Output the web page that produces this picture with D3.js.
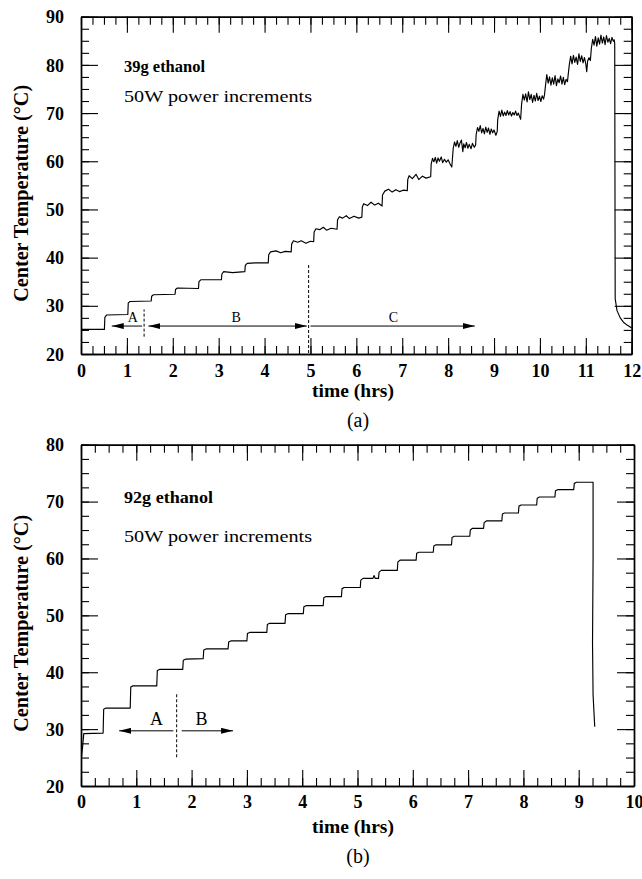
<!DOCTYPE html>
<html><head><meta charset="utf-8">
<script src="https://cdn.jsdelivr.net/npm/d3@7"></script>
<style>
body{margin:0;background:#fff;}
svg{display:block;}
text{font-family:"Liberation Serif","Times New Roman",serif;fill:#000;}
</style></head><body>
<svg id="chart" width="642" height="879"></svg>
<script>
// ---------- DATA ----------
// (a) 39 g ethanol : [time (hrs), centre temperature (°C)]
const seriesA = [
 [0,25.1],[0.51,25.1],
 [0.52,27.6],[0.56,28.1],[1.02,28.2],
 [1.03,30.6],[1.07,30.9],[1.53,31.0],
 [1.54,32.0],[1.58,32.3],[2.05,32.4],
 [2.06,33.4],[2.10,33.7],[2.56,33.6],
 [2.57,35.0],[2.61,35.4],[3.06,35.4],
 [3.07,36.6],[3.11,37.1],[3.30,36.9],[3.57,37.1],
 [3.58,38.4],[3.62,38.8],[3.80,38.9],[4.08,38.9],
 [4.09,40.6],[4.13,41.2],[4.25,41.4],[4.35,41.0],[4.45,41.3],[4.58,41.2],
 [4.59,42.8],[4.63,43.5],[4.72,43.2],[4.80,43.5],[4.90,43.0],[5.00,43.4],[5.07,43.3],
 [5.08,45.3],[5.12,46.0],[5.20,45.8],[5.28,46.3],[5.35,45.7],[5.45,46.1],[5.58,45.9],
 [5.59,47.8],[5.63,48.5],[5.70,48.2],[5.78,48.7],[5.85,48.1],[5.95,48.6],[6.05,48.2],[6.12,48.4],
 [6.13,50.5],[6.16,51.2],[6.24,50.8],[6.32,51.5],[6.40,50.9],[6.48,51.3],[6.56,50.7],
 [6.57,53.0],[6.62,53.8],[6.70,54.2],[6.78,53.6],[6.86,54.1],[6.94,53.7],[7.02,54.0],[7.11,53.9],
 [7.12,56.2],[7.15,57.0],[7.22,56.4],[7.30,57.3],[7.36,56.2],[7.44,56.9],[7.52,56.5],[7.62,56.8],
 [7.63,59.4],[7.66,60.6],[7.69,59.9],[7.72,60.8],[7.75,59.6],[7.78,60.7],[7.81,60.0],[7.85,60.9],[7.88,59.7],[7.92,60.4],[7.96,59.8],[8.00,60.3],[8.04,59.5],[8.08,58.8],
 [8.11,62.6],[8.14,64.0],[8.17,63.1],[8.20,64.3],[8.23,62.9],[8.26,63.8],[8.29,64.4],[8.32,62.0],[8.34,63.6],[8.37,62.8],[8.40,63.9],[8.43,62.7],[8.46,63.5],[8.50,62.6],[8.53,63.7],[8.57,62.9],[8.60,63.4],
 [8.61,65.5],[8.64,67.0],[8.67,66.2],[8.70,67.4],[8.73,65.9],[8.76,66.8],[8.79,65.7],[8.82,67.1],[8.85,66.0],[8.88,66.9],[8.91,65.6],[8.94,66.7],[8.97,65.9],[9.00,66.5],[9.04,65.4],[9.07,66.2],
 [9.08,68.6],[9.11,70.4],[9.14,69.3],[9.17,70.6],[9.20,69.4],[9.23,70.2],[9.26,69.5],[9.29,70.5],[9.32,69.6],[9.35,70.3],[9.38,69.4],[9.41,70.1],[9.44,69.6],[9.47,70.4],[9.50,69.5],[9.53,70.0],[9.56,69.2],[9.58,68.7],
 [9.60,71.8],[9.63,73.9],[9.66,72.7],[9.69,74.0],[9.72,72.3],[9.75,74.4],[9.78,72.8],[9.81,73.9],[9.84,72.2],[9.87,73.7],[9.90,72.5],[9.93,74.1],[9.96,72.6],[9.99,73.5],[10.02,72.4],[10.05,73.6],[10.08,72.9],[10.10,73.8],
 [10.12,75.6],[10.15,78.0],[10.18,76.2],[10.21,77.5],[10.24,75.8],[10.27,77.3],[10.30,76.0],[10.33,77.8],[10.36,75.7],[10.39,77.1],[10.42,76.3],[10.45,77.7],[10.48,76.0],[10.51,77.4],[10.54,75.9],[10.57,77.0],[10.60,76.5],[10.62,78.3],
 [10.64,80.0],[10.67,81.8],[10.70,80.2],[10.73,82.0],[10.76,80.5],[10.79,81.6],[10.82,80.1],[10.85,82.3],[10.88,80.7],[10.91,81.9],[10.94,80.4],[10.97,81.5],[11.00,80.2],[11.02,78.6],[11.04,80.8],[11.07,81.5],[11.10,80.9],
 [11.12,83.4],[11.15,85.3],[11.18,84.1],[11.21,85.9],[11.24,83.9],[11.27,85.6],[11.30,84.3],[11.33,86.2],[11.36,84.5],[11.39,85.8],[11.42,84.2],[11.45,86.1],[11.48,84.7],[11.51,85.5],[11.54,84.4],[11.57,85.7],[11.60,84.9],[11.62,85.2],
 [11.63,84.4],[11.64,31.5],[11.68,29.0],[11.75,27.5],[11.82,26.6],[11.90,26.0],[12.0,25.4]
];
// (b) 92 g ethanol
const seriesB = [
 [0.01,25.2],[0.03,27.0],[0.05,29.2],[0.40,29.3],
 [0.41,33.5],[0.45,33.7],[0.89,33.7],
 [0.90,37.4],[0.94,37.6],[1.37,37.6],
 [1.38,40.3],[1.42,40.5],[1.84,40.5],
 [1.85,42.1],[1.89,42.3],[2.21,42.4],
 [2.22,43.9],[2.26,44.1],[2.66,44.1],
 [2.67,45.3],[2.71,45.5],[3.00,45.5],
 [3.01,46.8],[3.05,47.0],[3.36,47.0],
 [3.37,48.4],[3.41,48.6],[3.69,48.6],
 [3.70,50.1],[3.74,50.3],[4.02,50.3],
 [4.03,51.5],[4.07,51.7],[4.38,51.7],
 [4.39,53.1],[4.43,53.3],[4.71,53.3],
 [4.72,54.7],[4.76,54.9],[5.05,54.9],
 [5.06,56.2],[5.10,56.5],[5.28,56.5],[5.30,57.0],[5.32,56.5],[5.38,56.5],
 [5.39,57.6],[5.43,57.9],[5.72,57.9],
 [5.73,59.4],[5.77,59.7],[6.06,59.7],
 [6.07,60.9],[6.11,61.1],[6.37,61.1],
 [6.38,62.2],[6.42,62.4],[6.70,62.4],
 [6.71,63.7],[6.75,63.9],[7.03,63.9],
 [7.04,65.0],[7.08,65.3],[7.28,65.3],
 [7.29,66.3],[7.33,66.6],[7.61,66.6],
 [7.62,67.8],[7.66,68.0],[7.91,68.0],
 [7.92,69.2],[7.96,69.4],[8.24,69.4],
 [8.25,70.6],[8.29,70.8],[8.57,70.8],
 [8.58,71.9],[8.62,72.1],[8.91,72.1],
 [8.92,73.2],[8.96,73.4],[9.26,73.4],
 [9.26,60.0],[9.25,45.0],[9.26,36.0],[9.29,30.4]
];
const xTicksA = [0,1,2,3,4,5,6,7,8,9,10,11,12];
const yTicksA = [20,30,40,50,60,70,80,90];
const xTicksB = [0,1,2,3,4,5,6,7,8,9,10];
const yTicksB = [20,30,40,50,60,70,80];
// region markers: [label, labelTime, fromTime, toTime, arrowTemp, headStart, headEnd]
const regionsA = [["A",1.13,0.67,1.33,25.8,true,false],["B",3.38,1.47,4.92,25.8,true,true],["C",6.81,5.00,8.58,25.8,false,true]];
const dividersA = [[1.375,23.6,29.25],[4.96,20.2,38.8]];
const regionsB = [["A",1.365,0.69,1.67,29.7,true,false],["B",2.18,1.82,2.75,29.7,false,true]];
const dividersB = [[1.73,25.05,36.2]];

// ---------- DRAW ----------
const svg = d3.select("#chart");
const defs = svg.append("defs");
defs.append("marker").attr("id","ah").attr("viewBox","0 0 12 6")
  .attr("refX",12).attr("refY",3).attr("markerWidth",12).attr("markerHeight",6)
  .attr("markerUnits","userSpaceOnUse").attr("orient","auto-start-reverse")
  .append("path").attr("d","M0,0L12,3L0,6Z").attr("fill","#000");

function panel(cfg){
  const x = d3.scaleLinear().domain(cfg.xDomain).range([cfg.left,cfg.right]);
  const y = d3.scaleLinear().domain(cfg.yDomain).range([cfg.bottom,cfg.top]);
  const g = svg.append("g");
  const minorX = d3.range(cfg.xDomain[0],cfg.xDomain[1]+0.001,0.25);
  const minorY = d3.range(cfg.yDomain[0],cfg.yDomain[1]+0.001,2.5);
  const mk = (axis, tr) => g.append("g").attr("transform",tr).call(axis);
  mk(d3.axisBottom(x).tickValues(minorX).tickSize(-8).tickSizeOuter(0).tickFormat(""),`translate(0,${cfg.bottom})`);
  mk(d3.axisTop(x).tickValues(minorX).tickSize(-8).tickSizeOuter(0).tickFormat(""),`translate(0,${cfg.top})`);
  mk(d3.axisLeft(y).tickValues(minorY).tickSize(-8).tickSizeOuter(0).tickFormat(""),`translate(${cfg.left},0)`);
  mk(d3.axisRight(y).tickValues(minorY).tickSize(-8).tickSizeOuter(0).tickFormat(""),`translate(${cfg.right},0)`);
  mk(d3.axisBottom(x).tickValues(cfg.xTicks).tickSize(-16).tickSizeOuter(0).tickPadding(cfg.xPad),`translate(0,${cfg.bottom})`);
  mk(d3.axisTop(x).tickValues(cfg.xTicks).tickSize(-16).tickSizeOuter(0).tickFormat(""),`translate(0,${cfg.top})`);
  const yl = mk(d3.axisLeft(y).tickValues(cfg.yTicks).tickSize(-17).tickSizeOuter(0).tickPadding(17),`translate(${cfg.left},0)`);
  mk(d3.axisRight(y).tickValues(cfg.yTicks).tickSize(-17).tickSizeOuter(0).tickFormat(""),`translate(${cfg.right},0)`);
  g.selectAll(".domain").attr("stroke","#000").attr("stroke-width",1.4);
  g.selectAll(".tick line").attr("stroke","#000").attr("stroke-width",1.1);
  g.selectAll(".tick text").attr("font-family",'"Liberation Serif","Times New Roman",serif')
    .attr("font-size",18).attr("font-weight","bold").attr("fill","#000");
  yl.selectAll(".tick text").attr("dy","0.34em");

  // data trace
  g.append("path").datum(cfg.data)
    .attr("d",d3.line().x(d=>x(d[0])).y(d=>y(d[1])))
    .attr("fill","none").attr("stroke","#000").attr("stroke-width",1.15).attr("stroke-linejoin","round");

  // region arrows
  cfg.regions.forEach(r=>{
    const ln = g.append("line").attr("x1",x(r[2])).attr("x2",x(r[3]))
      .attr("y1",y(r[4])).attr("y2",y(r[4])).attr("stroke","#000").attr("stroke-width",1);
    if(r[5]) ln.attr("marker-start","url(#ah)");
    if(r[6]) ln.attr("marker-end","url(#ah)");
    g.append("text").attr("x",x(r[1])).attr("y",y(r[4])-cfg.labelGap)
      .attr("text-anchor","middle").attr("font-size",cfg.labelSize).text(r[0]);
  });
  cfg.dividers.forEach(dv=>{
    g.append("line").attr("x1",x(dv[0])).attr("x2",x(dv[0]))
      .attr("y1",y(dv[1])).attr("y2",y(dv[2])).attr("stroke","#000")
      .attr("stroke-width",1).attr("stroke-dasharray","3,2");
  });

  // inset text
  g.append("text").attr("x",cfg.left+43).attr("y",cfg.top+cfg.t1).attr("font-size",16.5)
    .attr("font-weight","bold").attr("textLength",cfg.t1w).attr("lengthAdjust","spacingAndGlyphs").text(cfg.title);
  g.append("text").attr("x",cfg.left+43).attr("y",cfg.top+cfg.t2).attr("font-size",17)
    .attr("textLength",188).attr("lengthAdjust","spacingAndGlyphs").text("50W power increments");

  // axis titles
  g.append("text").attr("transform",`translate(28,${(cfg.top+cfg.bottom)/2+8}) rotate(-90)`)
    .attr("text-anchor","middle").attr("font-size",20).attr("font-weight","bold")
    .attr("textLength",217).attr("lengthAdjust","spacingAndGlyphs").text("Center Temperature (°C)");
  g.append("text").attr("x",353).attr("y",cfg.bottom+cfg.xtY).attr("text-anchor","middle")
    .attr("font-size",19.5).attr("font-weight","bold").text("time (hrs)");
  g.append("text").attr("x",358).attr("y",cfg.bottom+cfg.capY).attr("text-anchor","middle")
    .attr("font-size",20).text(cfg.caption);
}

panel({left:81,right:631.7,top:16.7,bottom:354,xDomain:[0,12],yDomain:[20,90],
  xTicks:xTicksA,yTicks:yTicksA,xPad:10,data:seriesA,regions:regionsA,dividers:dividersA,
  labelSize:14,labelGap:4,title:"39g ethanol",t1:55,t1w:81,t2:85,xtY:43,capY:73,caption:"(a)"});
panel({left:81,right:634,top:444.7,bottom:786,xDomain:[0,10],yDomain:[20,80],
  xTicks:xTicksB,yTicks:yTicksB,xPad:9,data:seriesB,regions:regionsB,dividers:dividersB,
  labelSize:18,labelGap:6,title:"92g ethanol",t1:58.6,t1w:89,t2:97,xtY:47,capY:77,caption:"(b)"});
</script>
</body></html>
